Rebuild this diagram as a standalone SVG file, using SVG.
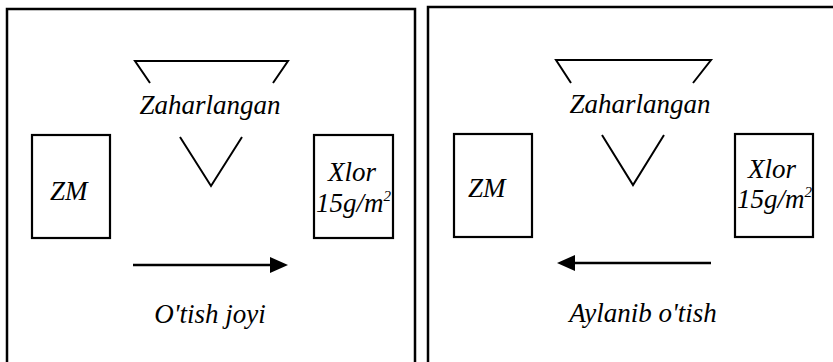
<svg xmlns="http://www.w3.org/2000/svg" width="833" height="362" viewBox="0 0 833 362">
<rect width="833" height="362" fill="#fff"/>
<g id="panel-left">
<path d="M7,370 V9 H415 V370" fill="none" stroke="#000" stroke-width="2.5"/>
</g>
<g id="panel-right">
<path d="M428,370 V7 H840" fill="none" stroke="#000" stroke-width="2.5"/>
</g>
<g id="zone-left">
<polyline fill="none" stroke="#000" stroke-width="2" points="150,83 135,61 288,61 273,83"/>
<polyline fill="none" stroke="#000" stroke-width="2" points="180,137 211,186 242,137"/>
<text x="210" y="114" text-anchor="middle" font-family="Liberation Serif" font-style="italic" font-size="27">Zaharlangan</text>
</g>
<g id="zone-right">
<polyline fill="none" stroke="#000" stroke-width="2" points="571,83 556,60 711,60 693,83"/>
<polyline fill="none" stroke="#000" stroke-width="2" points="602,135 633,185 664,135"/>
<text x="640" y="113" text-anchor="middle" font-family="Liberation Serif" font-style="italic" font-size="27">Zaharlangan</text>
</g>
<g id="zm-left">
<rect fill="#fff" stroke="#000" stroke-width="2.2" x="32" y="135" width="78" height="103"/>
<text x="50" y="200" font-family="Liberation Serif" font-style="italic" font-size="27">ZM</text>
</g>
<g id="zm-right">
<rect fill="#fff" stroke="#000" stroke-width="2.2" x="454" y="134" width="78" height="103"/>
<text x="468" y="197" font-family="Liberation Serif" font-style="italic" font-size="27">ZM</text>
</g>
<g id="xlor-left">
<rect fill="#fff" stroke="#000" stroke-width="2.2" x="314" y="135" width="79" height="103"/>
<text x="328" y="181" font-family="Liberation Serif" font-style="italic" font-size="27">Xlor</text>
<text x="316" y="212" font-family="Liberation Serif" font-style="italic" font-size="27">15g/m<tspan font-size="15" dy="-11">2</tspan></text>
</g>
<g id="xlor-right">
<rect fill="#fff" stroke="#000" stroke-width="2.2" x="735" y="134" width="78" height="103"/>
<text x="748" y="178" font-family="Liberation Serif" font-style="italic" font-size="27">Xlor</text>
<text x="737" y="208" font-family="Liberation Serif" font-style="italic" font-size="27">15g/m<tspan font-size="15" dy="-11">2</tspan></text>
</g>
<g id="connectors">
<line x1="133" y1="265" x2="272" y2="265" stroke="#000" stroke-width="2.5"/>
<polygon points="270,257 288,265 270,273" fill="#000"/>
<line x1="711" y1="263" x2="573" y2="263" stroke="#000" stroke-width="2.5"/>
<polygon points="575,255 557,263 575,271" fill="#000"/>
</g>
<g id="labels">
<text x="210" y="323" text-anchor="middle" font-family="Liberation Serif" font-style="italic" font-size="27">O'tish joyi</text>
<text x="643" y="322" text-anchor="middle" font-family="Liberation Serif" font-style="italic" font-size="27">Aylanib o'tish</text>
</g>
</svg>
